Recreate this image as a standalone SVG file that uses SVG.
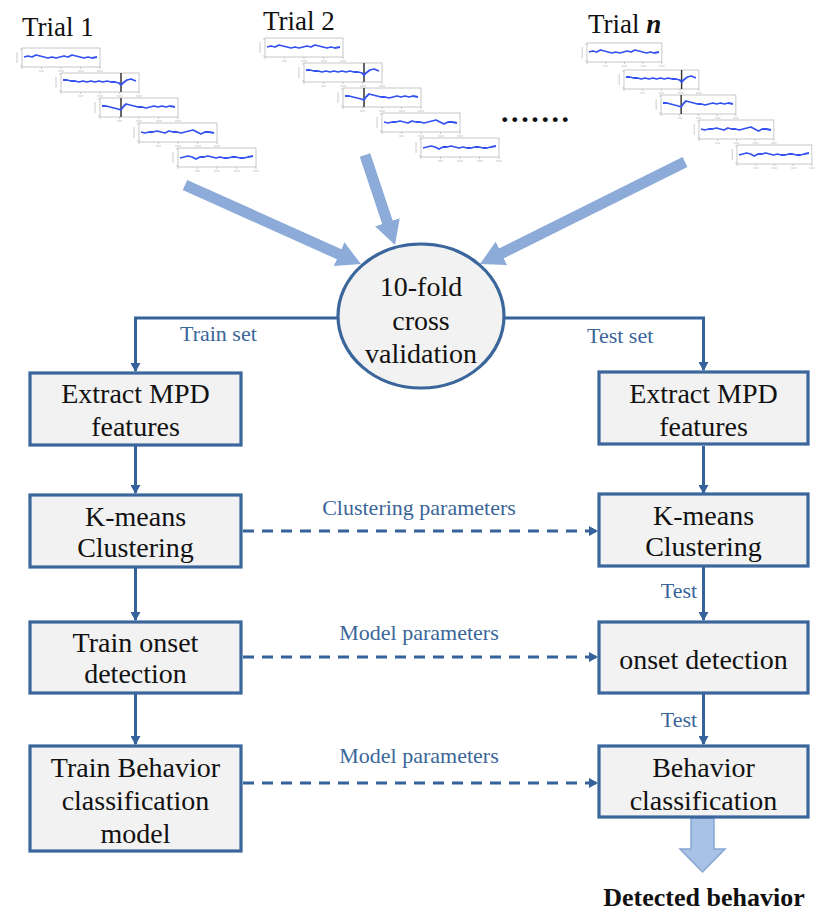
<svg xmlns="http://www.w3.org/2000/svg" xmlns:xlink="http://www.w3.org/1999/xlink" width="817" height="913" viewBox="0 0 817 913">
<style>
.box{fill:#f2f2f2;stroke:#3a669b;stroke-width:3.2}
.serif{font-family:"Liberation Serif","DejaVu Serif",serif}
.bt{font-family:"Liberation Serif","DejaVu Serif",serif;font-size:28px;fill:#111;text-anchor:middle}
.lb{font-family:"Liberation Serif","DejaVu Serif",serif;font-size:22px;fill:#3a6699}
.tr{font-family:"Liberation Serif","DejaVu Serif",serif;font-size:27px;fill:#111}
.con{fill:none;stroke:#35629a;stroke-width:3}
.dash{fill:none;stroke:#35629a;stroke-width:3;stroke-dasharray:11 8}
.big{stroke:#8dabd9;stroke-width:11;fill:none}
.ax{fill:#fff;stroke:#b0b0b0;stroke-width:0.7}
.sig{fill:none;stroke:#3452f0;stroke-width:1.8;stroke-linejoin:round}
.tk{stroke:#aaa;stroke-width:0.6}
.ev{stroke:#333;stroke-width:1.5}
</style>
<defs>
<marker id="ah" markerWidth="9" markerHeight="10" refX="8" refY="5" orient="auto" markerUnits="userSpaceOnUse"><path d="M0,0 L9,5 L0,10 z" fill="#35629a"/></marker>
<marker id="bh" markerWidth="24" markerHeight="26" refX="10" refY="13" orient="auto" markerUnits="userSpaceOnUse"><path d="M0,0 L24,13 L0,26 z" fill="#8dabd9"/></marker>
<g id="frame">
<rect class="ax" x="0" y="0" width="78" height="19"/>
<path class="tk" d="M0,19 v2 M19.5,19 v2 M39,19 v2 M58.5,19 v2 M78,19 v2 M-2,1 h2 M-2,18 h2 M-5,4 v11"/>
<path class="tk" d="M17,23 h5 M36,23 h6 M56,23 h6 M75,23 h6" stroke="#ccc"/>
</g>
<g id="p1"><use xlink:href="#frame"/><polyline class="sig" points="2,9 6,8 10,9 14,7 18,8 22,9 26,10 30,9 34,10 38,9 42,8 46,9 50,7 54,8 58,9 62,10 66,9 70,10 75,9"/></g>
<g id="p2"><use xlink:href="#frame"/><line class="ev" x1="60" y1="0" x2="60" y2="19"/><polyline class="sig" points="2,7 6,7 10,8 14,8 18,9 22,8 26,9 30,8 34,9 38,8 42,9 46,8 50,9 54,9 58,10 60,12 62,10 66,7 70,6 75,8"/></g>
<g id="p3"><use xlink:href="#frame"/><line class="ev" x1="21" y1="0" x2="21" y2="19"/><polyline class="sig" points="2,8 6,8 10,9 14,10 18,11 21,12 23,9 26,6 30,7 34,8 38,9 42,9 46,10 50,9 54,8 58,9 62,8 66,9 70,8 75,9"/></g>
<g id="p4"><use xlink:href="#frame"/><polyline class="sig" points="2,9 6,10 10,9 14,9 18,8 22,9 26,10 30,8 34,9 38,9 42,10 46,9 50,8 54,7 58,9 62,11 66,9 70,9 75,10"/></g>
<g id="p5"><use xlink:href="#frame"/><polyline class="sig" points="2,10 6,9 10,8 14,9 18,11 22,9 26,9 30,8 34,9 38,10 42,9 46,10 50,10 54,9 58,9 62,10 66,10 70,9 75,8"/></g>
</defs>
<rect width="817" height="913" fill="#fff"/>

<g id="trial1">
<text class="tr" x="22" y="36">Trial 1</text>
<use xlink:href="#p1" x="22" y="48"/>
<use xlink:href="#p2" x="61" y="73"/>
<use xlink:href="#p3" x="100" y="98"/>
<use xlink:href="#p4" x="139" y="123"/>
<use xlink:href="#p5" x="178" y="148"/>
</g>
<g id="trial2">
<text class="tr" x="263" y="30">Trial 2</text>
<use xlink:href="#p1" x="265" y="38"/>
<use xlink:href="#p2" x="304" y="63"/>
<use xlink:href="#p3" x="343" y="88"/>
<use xlink:href="#p4" x="382" y="113"/>
<use xlink:href="#p5" x="421" y="138"/>
</g>
<g id="trialn">
<text class="tr" x="588" y="33">Trial <tspan font-style="italic" font-weight="bold">n</tspan></text>
<g transform="translate(587,43) scale(0.96,1)"><use xlink:href="#p1"/></g>
<g transform="translate(624,70) scale(0.96,1)"><use xlink:href="#p2"/></g>
<g transform="translate(661,95) scale(0.96,1)"><use xlink:href="#p3"/></g>
<g transform="translate(699,120) scale(0.96,1)"><use xlink:href="#p4"/></g>
<g transform="translate(737,145) scale(0.96,1)"><use xlink:href="#p5"/></g>
</g>
<text id="dots" class="serif" x="501" y="122" font-weight="bold" font-size="30" letter-spacing="2.6" fill="#111">.......</text>

<g id="connectors">
<line class="big" x1="185" y1="185" x2="348.2" y2="258.3" marker-end="url(#bh)"/>
<line class="big" x1="365" y1="155" x2="390.6" y2="231.7" marker-end="url(#bh)"/>
<line class="big" x1="685" y1="162" x2="492.5" y2="257.8" marker-end="url(#bh)"/>
<path class="con" d="M339,318 H135.5 V371" marker-end="url(#ah)"/>
<path class="con" d="M503,318 H703.5 V370" marker-end="url(#ah)"/>
<line class="con" x1="135.5" y1="446" x2="135.5" y2="493" marker-end="url(#ah)"/>
<line class="con" x1="135.5" y1="567" x2="135.5" y2="620" marker-end="url(#ah)"/>
<line class="con" x1="135.5" y1="694" x2="135.5" y2="744" marker-end="url(#ah)"/>
<line class="con" x1="703.5" y1="446" x2="703.5" y2="493" marker-end="url(#ah)"/>
<line class="con" x1="703.5" y1="567" x2="703.5" y2="620" marker-end="url(#ah)"/>
<line class="con" x1="703.5" y1="694" x2="703.5" y2="744" marker-end="url(#ah)"/>
<line class="dash" x1="243" y1="531" x2="597" y2="531" marker-end="url(#ah)"/>
<line class="dash" x1="243" y1="657" x2="597" y2="657" marker-end="url(#ah)"/>
<line class="dash" x1="243" y1="783" x2="597" y2="783" marker-end="url(#ah)"/>
<text class="lb" x="180" y="341">Train set</text>
<text class="lb" x="587" y="343">Test set</text>
<text class="lb" x="419" y="515" text-anchor="middle">Clustering parameters</text>
<text class="lb" x="419" y="640" text-anchor="middle">Model parameters</text>
<text class="lb" x="419" y="763" text-anchor="middle">Model parameters</text>
<text class="lb" x="679" y="598" text-anchor="middle">Test</text>
<text class="lb" x="679" y="727" text-anchor="middle">Test</text>
<polygon points="691,818 714,818 714,849 725,849 702.5,872 680,849 691,849" fill="#a8c2e6" stroke="#87a6d3" stroke-width="1.5"/>
</g>

<g id="cv">
<ellipse cx="421" cy="316" rx="83" ry="72" class="box" stroke-width="3"/>
<text class="bt" x="421" y="296" font-size="27">10-fold</text>
<text class="bt" x="421" y="330" font-size="27">cross</text>
<text class="bt" x="421" y="363" font-size="27">validation</text>
</g>
<g id="extract-train">
<rect class="box" x="30" y="373" width="211" height="72"/>
<text class="bt" x="135.5" y="403">Extract MPD</text>
<text class="bt" x="135.5" y="436">features</text>
</g>
<g id="kmeans-train">
<rect class="box" x="30" y="495" width="211" height="72"/>
<text class="bt" x="135.5" y="526">K-means</text>
<text class="bt" x="135.5" y="557">Clustering</text>
</g>
<g id="onset-train">
<rect class="box" x="30" y="622" width="211" height="71"/>
<text class="bt" x="135.5" y="652">Train onset</text>
<text class="bt" x="135.5" y="683">detection</text>
</g>
<g id="behavior-train">
<rect class="box" x="30" y="746" width="211" height="105"/>
<text class="bt" x="135.5" y="777">Train Behavior</text>
<text class="bt" x="135.5" y="810">classification</text>
<text class="bt" x="135.5" y="843">model</text>
</g>
<g id="extract-test">
<rect class="box" x="599" y="372" width="209" height="72"/>
<text class="bt" x="703.5" y="403">Extract MPD</text>
<text class="bt" x="703.5" y="436">features</text>
</g>
<g id="kmeans-test">
<rect class="box" x="599" y="494" width="209" height="72"/>
<text class="bt" x="703.5" y="525">K-means</text>
<text class="bt" x="703.5" y="556">Clustering</text>
</g>
<g id="onset-test">
<rect class="box" x="599" y="622" width="209" height="71"/>
<text class="bt" x="703.5" y="669">onset detection</text>
</g>
<g id="behavior-test">
<rect class="box" x="599" y="746" width="209" height="71"/>
<text class="bt" x="703.5" y="777">Behavior</text>
<text class="bt" x="703.5" y="810">classification</text>
</g>
<text id="detected" class="serif" x="704" y="906" font-weight="bold" font-size="26" text-anchor="middle" fill="#111">Detected behavior</text>
</svg>
